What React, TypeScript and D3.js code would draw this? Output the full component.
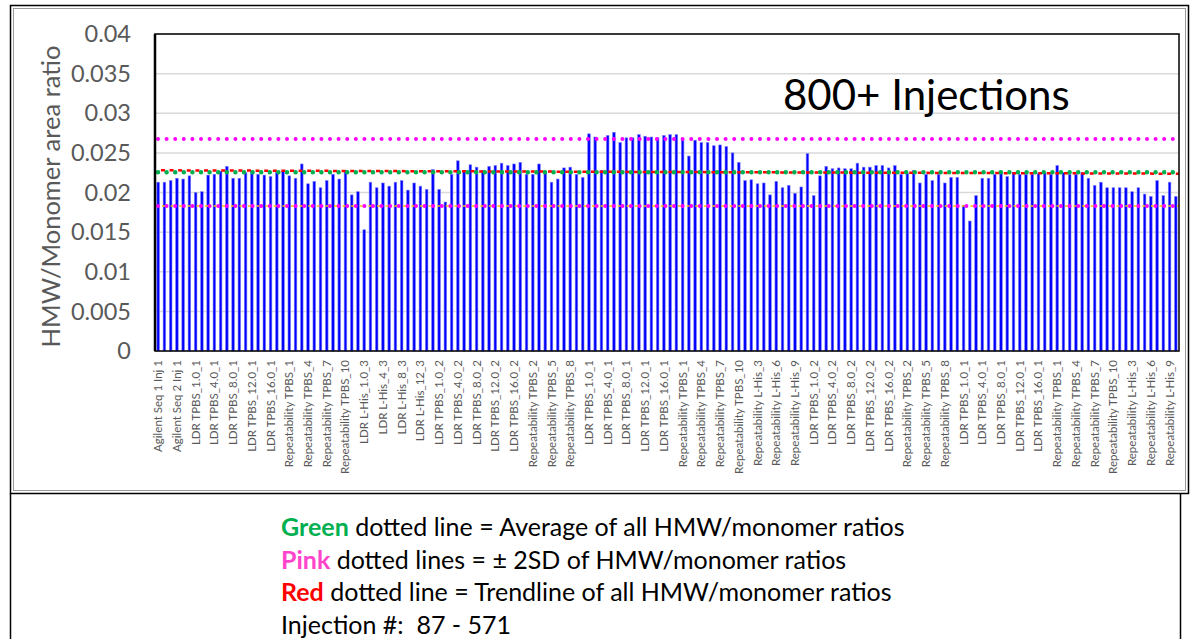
import React from 'react';
import * as d3 from 'd3';

// x-axis labels (Excel shows every 3rd category)
const tickLabels = [
  'Agilent Seq 1 Inj 1', 'Agilent Seq 2 Inj 1',
  'LDR TPBS_1.0_1', 'LDR TPBS_4.0_1', 'LDR TPBS_8.0_1', 'LDR TPBS_12.0_1', 'LDR TPBS_16.0_1',
  'Repeatability TPBS_1', 'Repeatability TPBS_4', 'Repeatability TPBS_7', 'Repeatability TPBS_10',
  'LDR L-His_1.0_3', 'LDR L-His_4_3', 'LDR L-His_8_3', 'LDR L-His_12_3',
  'LDR TPBS_1.0_2', 'LDR TPBS_4.0_2', 'LDR TPBS_8.0_2', 'LDR TPBS_12.0_2', 'LDR TPBS_16.0_2',
  'Repeatability TPBS_2', 'Repeatability TPBS_5', 'Repeatability TPBS_8',
  'LDR TPBS_1.0_1', 'LDR TPBS_4.0_1', 'LDR TPBS_8.0_1', 'LDR TPBS_12.0_1', 'LDR TPBS_16.0_1',
  'Repeatability TPBS_1', 'Repeatability TPBS_4', 'Repeatability TPBS_7', 'Repeatability TPBS_10',
  'Repeatability L-His_3', 'Repeatability L-His_6', 'Repeatability L-His_9',
  'LDR TPBS_1.0_2', 'LDR TPBS_4.0_2', 'LDR TPBS_8.0_2', 'LDR TPBS_12.0_2', 'LDR TPBS_16.0_2',
  'Repeatability TPBS_2', 'Repeatability TPBS_5', 'Repeatability TPBS_8',
  'LDR TPBS_1.0_1', 'LDR TPBS_4.0_1', 'LDR TPBS_8.0_1', 'LDR TPBS_12.0_1', 'LDR TPBS_16.0_1',
  'Repeatability TPBS_1', 'Repeatability TPBS_4', 'Repeatability TPBS_7', 'Repeatability TPBS_10',
  'Repeatability L-His_3', 'Repeatability L-His_6', 'Repeatability L-His_9',
];
const labelEvery = 3;

// HMW/Monomer area ratio per injection
const ratios = [
  0.0213, 0.0213, 0.0215, 0.0218, 0.0217, 0.0221, 0.0200, 0.0201, 0.0222, 0.0223,
  0.0227, 0.0233, 0.0218, 0.0218, 0.0225, 0.0227, 0.0223, 0.0222, 0.0220, 0.0225,
  0.0227, 0.0221, 0.0218, 0.0236, 0.0211, 0.0214, 0.0206, 0.0215, 0.0223, 0.0217,
  0.0228, 0.0197, 0.0201, 0.0153, 0.0213, 0.0206, 0.0212, 0.0208, 0.0213, 0.0215,
  0.0203, 0.0212, 0.0208, 0.0204, 0.0229, 0.0204, 0.0188, 0.0223, 0.0240, 0.0228,
  0.0235, 0.0232, 0.0228, 0.0233, 0.0234, 0.0237, 0.0234, 0.0236, 0.0238, 0.0223,
  0.0223, 0.0236, 0.0224, 0.0213, 0.0217, 0.0231, 0.0232, 0.0223, 0.0219, 0.0274,
  0.0270, 0.0228, 0.0272, 0.0276, 0.0263, 0.0269, 0.0269, 0.0273, 0.0271, 0.0270,
  0.0269, 0.0272, 0.0273, 0.0273, 0.0267, 0.0246, 0.0266, 0.0263, 0.0263, 0.0259,
  0.0260, 0.0258, 0.0250, 0.0238, 0.0215, 0.0216, 0.0211, 0.0212, 0.0197, 0.0214,
  0.0206, 0.0209, 0.0199, 0.0207, 0.0249, 0.0196, 0.0221, 0.0233, 0.0230, 0.0231,
  0.0230, 0.0230, 0.0237, 0.0232, 0.0232, 0.0234, 0.0234, 0.0231, 0.0234, 0.0223,
  0.0224, 0.0228, 0.0212, 0.0223, 0.0215, 0.0223, 0.0212, 0.0219, 0.0219, 0.0184,
  0.0164, 0.0196, 0.0218, 0.0218, 0.0223, 0.0227, 0.0220, 0.0225, 0.0223, 0.0223,
  0.0223, 0.0224, 0.0225, 0.0223, 0.0234, 0.0225, 0.0223, 0.0223, 0.0225, 0.0218,
  0.0209, 0.0213, 0.0206, 0.0206, 0.0206, 0.0206, 0.0201, 0.0206, 0.0198, 0.0195,
  0.0215, 0.0196, 0.0213, 0.0195,
];

const average = 0.02254;
const plus2SD = 0.02674;
const minus2SD = 0.0183;
const trendEnds = [0.0228, 0.02237];

const yTicks = [0, 0.005, 0.01, 0.015, 0.02, 0.025, 0.03, 0.035, 0.04];
const yTickText = ['0', '0.005', '0.01', '0.015', '0.02', '0.025', '0.03', '0.035', '0.04'];

const notes = [
  { key: 'Green', color: '#00B050', rest: ' dotted line = Average of all HMW/monomer ratios' },
  { key: 'Pink', color: '#FF44CC', rest: ' dotted lines = \u00B1 2SD of HMW/monomer ratios' },
  { key: 'Red', color: '#FF0000', rest: ' dotted line = Trendline of all HMW/monomer ratios' },
  { key: '', color: '#000', rest: 'Injection #:\u00A0 87 - 571' },
];

const W = 1191;
const H = 639;
const plot = { left: 155, right: 1179, top: 34, bottom: 351 };
const font = 'Lato, "Open Sans", sans-serif';

export default function App() {
  const x = d3
    .scaleBand<number>()
    .domain(d3.range(ratios.length))
    .range([plot.left, plot.right])
    .paddingInner(0.58)
    .paddingOuter(0.3);
  const y = d3.scaleLinear().domain([0, 0.04]).range([plot.bottom, plot.top]);

  const trend = d3
    .scaleLinear()
    .domain([plot.left, plot.right])
    .range(trendEnds);

  const cx = (i: number) => (x(i) as number) + x.bandwidth() / 2;

  return (
    <svg
      width={W}
      height={H}
      style={{ position: 'absolute', left: 0, top: 0, background: '#fff' }}
    >
      {/* chart frame */}
      <rect x={10.5} y={5.5} width={1178} height={488} fill="none" stroke="#000" strokeWidth={1.5} />
      <rect x={13.5} y={8.5} width={1172} height={482} fill="none" stroke="#9a9a9a" strokeWidth={1} />
      {/* text box lines */}
      <line x1={10.5} x2={10.5} y1={493} y2={H} stroke="#000" strokeWidth={1.5} />
      <line x1={1180.5} x2={1180.5} y1={493} y2={H} stroke="#000" strokeWidth={1.5} />

      {/* gridlines */}
      {yTicks.map((t) => (
        <line key={t} x1={plot.left} x2={plot.right} y1={y(t)} y2={y(t)} stroke="#d9d9d9" strokeWidth={1.5} />
      ))}

      {/* bars */}
      {ratios.map((v, i) => (
        <rect
          key={i}
          x={x(i)}
          y={y(v)}
          width={x.bandwidth()}
          height={y(0) - y(v)}
          fill="#0000ff"
          stroke="#8080ff"
          strokeWidth={0.6}
        />
      ))}

      {/* +2SD */}
      <line
        x1={plot.left + 3} x2={plot.right} y1={y(plus2SD)} y2={y(plus2SD)}
        stroke="#ff00ff" strokeWidth={4} strokeLinecap="round" strokeDasharray="0 8.6"
      />
      {/* -2SD */}
      <line
        x1={plot.left + 7} x2={plot.right} y1={y(minus2SD)} y2={y(minus2SD)}
        stroke="#ffc000" strokeWidth={1.5} strokeDasharray="3 5.6"
      />
      <line
        x1={plot.left + 3} x2={plot.right} y1={y(minus2SD)} y2={y(minus2SD)}
        stroke="#ff00ff" strokeWidth={4} strokeLinecap="round" strokeDasharray="0 8.6"
      />
      {/* trendline */}
      <line
        x1={plot.left + 6} x2={plot.right} y1={y(trend(plot.left))} y2={y(trend(plot.right))}
        stroke="#ff0000" strokeWidth={2.5} strokeDasharray="4 4.6"
      />
      {/* average */}
      <line
        x1={plot.left + 3} x2={plot.right} y1={y(average)} y2={y(average)}
        stroke="#00b050" strokeWidth={4.5} strokeLinecap="round" strokeDasharray="0 8.6"
      />

      {/* plot border */}
      <rect
        x={plot.left} y={plot.top} width={plot.right - plot.left} height={plot.bottom - plot.top}
        fill="none" stroke="#000" strokeWidth={1.5}
      />
      <line x1={plot.left} x2={plot.left} y1={plot.top} y2={plot.bottom} stroke="#000" strokeWidth={2.5} />

      {/* y ticks */}
      {yTicks.map((t, i) => (
        <text
          key={t} x={131} y={y(t)} dy="0.35em" textAnchor="end"
          fontFamily={font} fontSize={23.5} fill="#595959"
        >
          {yTickText[i]}
        </text>
      ))}
      <text
        transform={`translate(60,${(plot.top + plot.bottom) / 2 + 4}) rotate(-90)`}
        textAnchor="middle" fontFamily={font} fontSize={25.5} fill="#595959"
      >
        HMW/Monomer area ratio
      </text>

      {/* x labels */}
      {tickLabels.map((lab, k) => {
        const i = k * labelEvery;
        return (
          <text
            key={k}
            transform={`translate(${cx(i) + 4},360) rotate(-90)`}
            textAnchor="end" fontFamily={font} fontSize={11.5} fill="#595959"
          >
            {lab}
          </text>
        );
      })}

      <text x={783} y={110} fontFamily={font} fontSize={42} fill="#000">
        800+ Injections
      </text>

      {/* notes */}
      {notes.map((n, i) => (
        <text key={i} x={281} y={536 + i * 32.5} fontFamily={font} fontSize={25} fill="#000">
          {n.key && (
            <tspan fill={n.color} fontWeight="bold">
              {n.key}
            </tspan>
          )}
          {n.rest}
        </text>
      ))}
    </svg>
  );
}
